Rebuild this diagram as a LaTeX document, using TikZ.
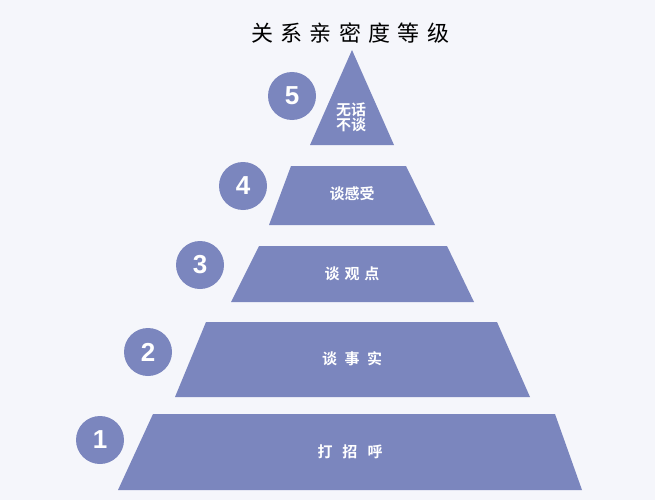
\documentclass[tikz,border=0pt]{standalone}
\usepackage{fontspec}
\newfontfamily\cjk{Noto Sans CJK SC}
\newfontfamily\cjkb{Noto Sans CJK SC Bold}
\setmainfont{Liberation Sans}
\definecolor{lay}{HTML}{7B86BE}
\definecolor{bg}{HTML}{F5F6FB}
\begin{document}
\begin{tikzpicture}[x=1pt,y=-1pt,
  layer/.style={fill=lay,draw=none},
  lab/.style={text=white,font=\cjkb\fontsize{15}{18}\selectfont,align=center},
  num/.style={circle,fill=lay,minimum size=48pt,inner sep=0pt,text=white,font=\bfseries\fontsize{26}{26}\selectfont}]
\fill[bg] (0,0) rectangle (655,500);
\useasboundingbox (0,0) rectangle (655,500);
\node[font=\cjk\fontsize{22}{24}\selectfont] (title) at (350,33) {关\,\,系\,\,亲\,\,密\,\,度\,\,等\,\,级};
\fill[layer] (352,50) -- (394,145) -- (310,145) -- cycle;
\fill[layer] (291,166) -- (406,166) -- (435,225) -- (269,225) -- cycle;
\fill[layer] (259,246) -- (447,246) -- (474,302) -- (231,302) -- cycle;
\fill[layer] (206,322) -- (497,322) -- (530,397) -- (175,397) -- cycle;
\fill[layer] (153,414) -- (555,414) -- (582,490) -- (118,490) -- cycle;
\node[lab] (l5) at (351,117) {无话\\[-3pt]不谈};
\node[lab] (l4) at (352,194) {谈感受};
\node[lab] (l3) at (352,274) {谈\,\,观\,\,点};
\node[lab] (l2) at (352,359) {谈\,\,\,事\,\,\,实};
\node[lab] (l1) at (350,452) {打\,\,\,\,招\,\,\,\,呼};
\node[num] (n5) at (292,96) {5};
\node[num] (n4) at (243,186) {4};
\node[num] (n3) at (200,265) {3};
\node[num] (n2) at (148,352) {2};
\node[num] (n1) at (100,440) {1};
\end{tikzpicture}
\end{document}
